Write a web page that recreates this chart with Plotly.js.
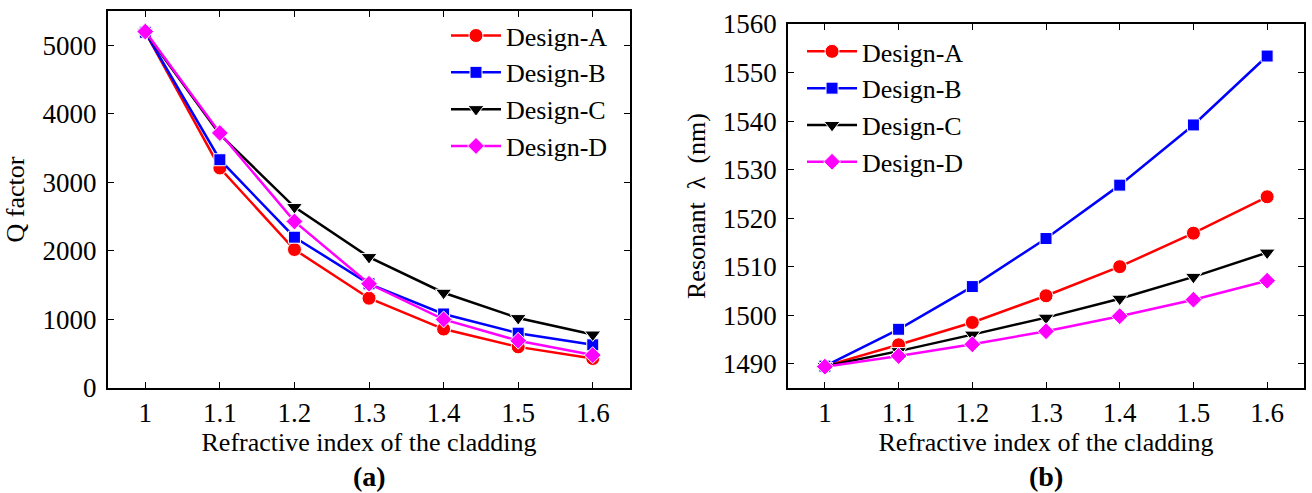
<!DOCTYPE html>
<html>
<head>
<meta charset="utf-8">
<script src="https://cdn.plot.ly/plotly-3.0.1.min.js"></script>
<style>html,body{margin:0;padding:0;background:#fff;}#chart{width:1312px;height:493px;}</style>
</head>
<body>
<div id="chart"></div>
<script>
// Data
const cladIndex = [1, 1.1, 1.2, 1.3, 1.4, 1.5, 1.6];
const seriesNames = ['Design-A', 'Design-B', 'Design-C', 'Design-D'];

// (a) Q factor
const qA = [5190, 3210, 2020, 1310, 860, 600, 430];
const qB = [5190, 3330, 2200, 1520, 1080, 800, 630];
const qC = [5190, 3700, 2640, 1910, 1390, 1020, 780];
const qD = [5200, 3720, 2430, 1520, 1000, 690, 480];

// (b) Resonant wavelength (nm)
const lamA = [1489.5, 1493.9, 1498.5, 1504.0, 1510.0, 1516.9, 1524.4];
const lamB = [1489.5, 1497.1, 1505.9, 1515.8, 1526.8, 1539.2, 1553.4];
const lamC = [1489.5, 1492.6, 1496.0, 1499.5, 1503.4, 1507.9, 1512.9];
const lamD = [1489.4, 1491.6, 1494.0, 1496.7, 1499.8, 1503.2, 1507.1];

const xTickVals = [1, 1.1, 1.2, 1.3, 1.4, 1.5, 1.6];
const xTickText = ['1', '1.1', '1.2', '1.3', '1.4', '1.5', '1.6'];
const qTickVals = [0, 1000, 2000, 3000, 4000, 5000];
const lamTickVals = [1490, 1500, 1510, 1520, 1530, 1540, 1550, 1560];

const colors = ['#ff0000', '#0000ff', '#000000', '#ff00ff'];
const symbols = ['circle', 'square', 'triangle-down', 'diamond'];
const msizes = [14, 12, 14, 13];

const FONT = 'Liberation Serif, Times New Roman, serif';

const qSeries = [qA, qB, qC, qD];
const lamSeries = [lamA, lamB, lamC, lamD];

const traces = [];
qSeries.forEach((ys, i) => {
  traces.push({
    x: cladIndex, y: ys, type: 'scatter', mode: 'lines+markers',
    name: seriesNames[i], xaxis: 'x', yaxis: 'y', legend: 'legend',
    line: {color: colors[i], width: 2.5},
    marker: {symbol: symbols[i], size: msizes[i], color: colors[i], line: {color: '#ffffff', width: 1}}
  });
});
lamSeries.forEach((ys, i) => {
  traces.push({
    x: cladIndex, y: ys, type: 'scatter', mode: 'lines+markers',
    name: seriesNames[i], xaxis: 'x2', yaxis: 'y2', legend: 'legend2',
    line: {color: colors[i], width: 2.5},
    marker: {symbol: symbols[i], size: msizes[i], color: colors[i], line: {color: '#ffffff', width: 1}}
  });
});

const axisCommon = {
  showline: true, linecolor: '#000', linewidth: 2, mirror: 'ticks',
  ticks: 'inside', ticklen: 6, tickwidth: 1, tickcolor: '#000',
  showgrid: false, zeroline: false,
  tickfont: {family: FONT, size: 27, color: '#000'}
};

const xTitle = {text: 'Refractive index of the cladding', font: {family: FONT, size: 26, color: '#000'}, standoff: 2};

const layout = {
  width: 1312, height: 493,
  margin: {l: 108, r: 8, t: 11, b: 105},
  paper_bgcolor: '#fff', plot_bgcolor: '#fff',
  font: {family: FONT, color: '#000'},
  xaxis: Object.assign({}, axisCommon, {domain: [0, 0.4365], range: [0.95, 1.65], tickvals: xTickVals, ticktext: xTickText, anchor: 'y', title: xTitle, ticklabelstandoff: 0}),
  yaxis: Object.assign({}, axisCommon, {domain: [0, 1], range: [0, 5500], tickvals: qTickVals, anchor: 'x', ticklabelstandoff: 4,
    title: {text: 'Q factor', font: {family: FONT, size: 26, color: '#000'}, standoff: 10}}),
  xaxis2: Object.assign({}, axisCommon, {domain: [0.5686, 1], range: [0.95, 1.65], tickvals: xTickVals, ticktext: xTickText, anchor: 'y2', title: xTitle, ticklabelstandoff: 0}),
  yaxis2: Object.assign({}, axisCommon, {domain: [0, 0.9655], range: [1485, 1560], tickvals: lamTickVals, anchor: 'x2', ticklabelstandoff: 4,
    title: {text: 'Resonant\u2002λ\u2002(nm)', font: {family: FONT, size: 26, color: '#000'}, standoff: 10}}),
  legend: {x: 0.2826, y: 0.997, xanchor: 'left', yanchor: 'top', bgcolor: 'rgba(0,0,0,0)', borderwidth: 0,
    font: {family: FONT, size: 26, color: '#000'}, itemwidth: 50},
  legend2: {x: 0.5803, y: 0.955, xanchor: 'left', yanchor: 'top', bgcolor: 'rgba(0,0,0,0)', borderwidth: 0,
    font: {family: FONT, size: 26, color: '#000'}, itemwidth: 50},
  annotations: [
    {text: '<b>(a)</b>', xref: 'x domain', yref: 'y domain', x: 0.5, y: -0.236, xanchor: 'center', yanchor: 'middle', showarrow: false, font: {family: FONT, size: 28, color: '#000'}},
    {text: '<b>(b)</b>', xref: 'x2 domain', yref: 'y domain', x: 0.5, y: -0.236, xanchor: 'center', yanchor: 'middle', showarrow: false, font: {family: FONT, size: 28, color: '#000'}}
  ],
  showlegend: true
};

Plotly.newPlot('chart', traces, layout, {staticPlot: true, displayModeBar: false});
</script>
</body>
</html>
